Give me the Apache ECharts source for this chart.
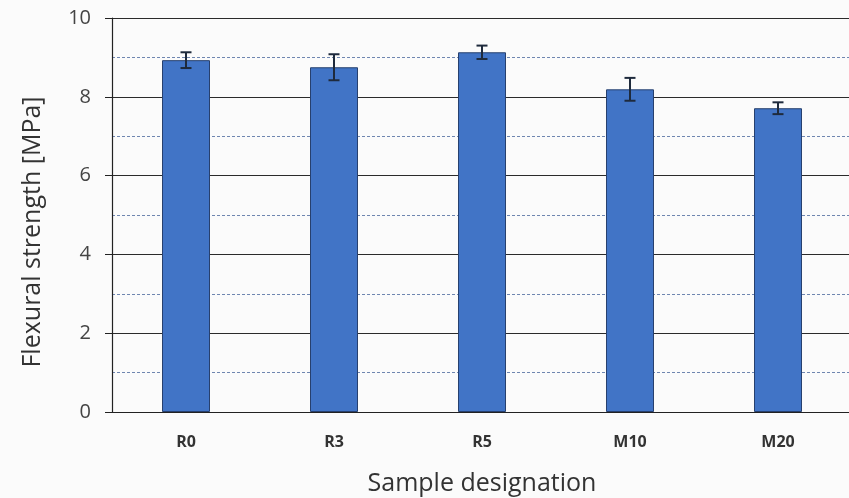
<!DOCTYPE html>
<html>
<head>
<meta charset="utf-8">
<style>
  html, body { margin: 0; padding: 0; background: #fbfbfb; }
  #chart { width: 849px; height: 498px; }
</style>
<script src="https://cdn.jsdelivr.net/npm/echarts@6/dist/echarts.min.js"></script>
</head>
<body>
<div id="chart"></div>
<script>
// Flexural strength of each mix, mean with standard deviation
const categories = ['R0', 'R3', 'R5', 'M10', 'M20'];
const strength = [8.93, 8.75, 9.13, 8.19, 7.71];
const deviation = [0.20, 0.33, 0.17, 0.29, 0.15];
const yTicks = [0, 2, 4, 6, 8, 10];

const errorData = categories.map((c, i) => [i, strength[i] - deviation[i], strength[i] + deviation[i]]);

const chart = echarts.init(document.getElementById('chart'), null, { renderer: 'canvas' });

chart.setOption({
  backgroundColor: '#fbfbfb',
  animation: false,
  grid: { left: 112, right: -3, top: 18, bottom: 86, outerBoundsMode: 'none', containLabel: false },
  xAxis: {
    type: 'category',
    data: categories,
    name: 'Sample designation',
    nameLocation: 'middle',
    nameGap: 59,
    nameTextStyle: { fontFamily: 'Open Sans', fontSize: 25, color: '#333' },
    axisLine: { lineStyle: { color: '#222', width: 1.2 } },
    axisTick: { show: false },
    axisLabel: { margin: 22, fontFamily: 'Open Sans', fontWeight: 'bold', fontSize: 16, color: '#333' }
  },
  yAxis: {
    type: 'value',
    min: yTicks[0],
    max: yTicks[yTicks.length - 1],
    interval: 2,
    name: 'Flexural strength [MPa]',
    nameLocation: 'middle',
    nameGap: 67,
    // extra space after the text moves the title a little below the axis centre
    nameTextStyle: { fontFamily: 'Open Sans', fontSize: 25, color: '#333', padding: [0, 34, 0, 0] },
    axisLine: { show: true, lineStyle: { color: '#222', width: 1.2 } },
    axisTick: { show: true, length: 7, lineStyle: { color: '#222' } },
    axisLabel: { margin: 21, fontFamily: 'Open Sans', fontSize: 20, color: '#444' },
    splitLine: { lineStyle: { color: '#2b2b2b', width: 1 } },
    minorTick: { show: false, splitNumber: 2 },
    minorSplitLine: { show: true, lineStyle: { color: '#6f86b0', width: 1, type: [3, 2] } }
  },
  series: [
    {
      type: 'bar',
      data: strength,
      barWidth: 48,
      itemStyle: { color: '#4174c6', borderColor: '#27406e', borderWidth: 1 },
      z: 3
    },
    {
      type: 'custom',
      data: errorData,
      z: 4,
      renderItem: function (params, api) {
        const x = api.value(0);
        const lo = api.coord([x, api.value(1)]);
        const hi = api.coord([x, api.value(2)]);
        const half = 5.5;
        const style = { stroke: '#1e2a3c', lineWidth: 2 };
        return {
          type: 'group',
          children: [
            { type: 'line', shape: { x1: hi[0], y1: hi[1], x2: lo[0], y2: lo[1] }, style: style },
            { type: 'line', shape: { x1: hi[0] - half, y1: hi[1], x2: hi[0] + half, y2: hi[1] }, style: style },
            { type: 'line', shape: { x1: lo[0] - half, y1: lo[1], x2: lo[0] + half, y2: lo[1] }, style: style }
          ]
        };
      }
    }
  ]
});
</script>
</body>
</html>
